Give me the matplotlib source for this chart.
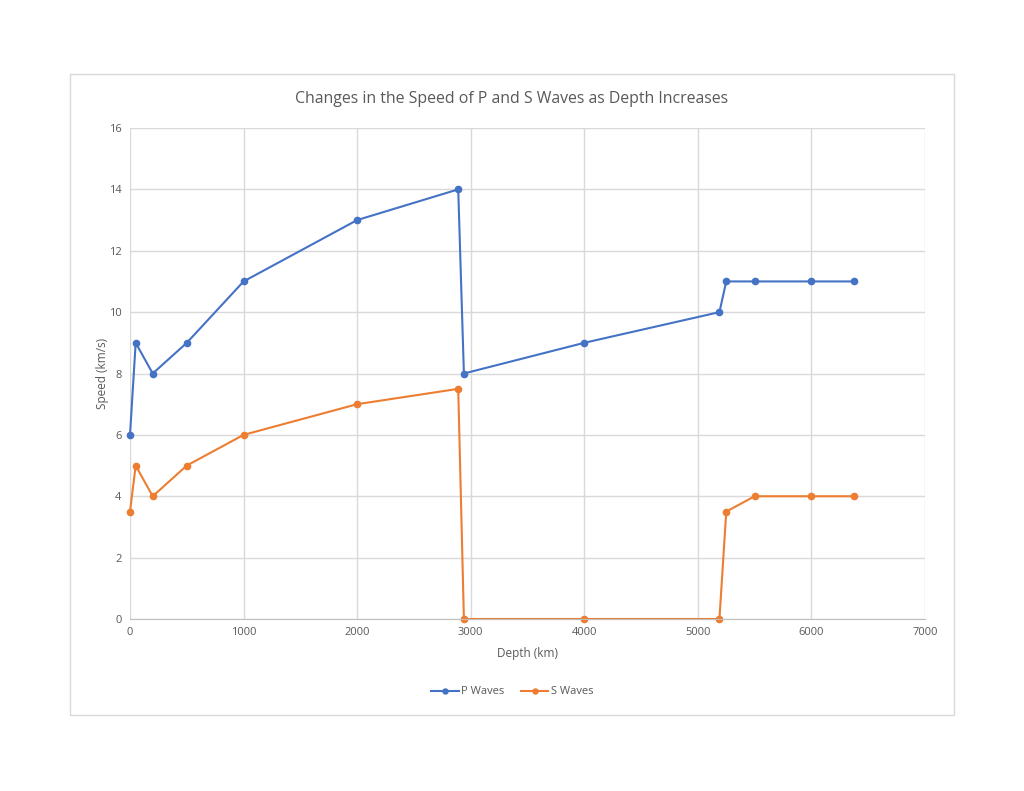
import matplotlib
matplotlib.use("Agg")
import matplotlib.pyplot as plt
from matplotlib.patches import Rectangle

plt.rcParams['font.family'] = ['Open Sans', 'DejaVu Sans']

depth = [0, 50, 200, 500, 1000, 2000, 2890, 2940, 4000, 5190, 5250, 5500, 6000, 6371]
p_waves = [6, 9, 8, 9, 11, 13, 14, 8, 9, 10, 11, 11, 11, 11]
s_waves = [3.5, 5, 4, 5, 6, 7, 7.5, 0, 0, 0, 3.5, 4, 4, 4]

BLUE = '#4472C4'
ORANGE = '#ED7D31'
GRID = '#D9D9D9'
TEXT = '#595959'

fig = plt.figure(figsize=(10.24, 7.91), dpi=100)
fig.patches.append(Rectangle((70 / 1024, 1 - 715 / 791), 884 / 1024, 641 / 791,
                             transform=fig.transFigure, fill=False,
                             edgecolor='#D9D9D9', linewidth=1))

ax = fig.add_axes([130 / 1024, 1 - 619 / 791, 795 / 1024, 491 / 791])
ax.plot(depth, p_waves, color=BLUE, linewidth=1.5, marker='o', markersize=4.5, label='P Waves')
ax.plot(depth, s_waves, color=ORANGE, linewidth=1.5, marker='o', markersize=4.5, label='S Waves')

ax.set_xlim(0, 7000)
ax.set_ylim(0, 16)
ax.set_xticks(range(0, 7001, 1000))
ax.set_yticks(range(0, 17, 2))
ax.grid(True, color=GRID, linewidth=1)
ax.set_axisbelow(True)
for side in ['top', 'right', 'left']:
    ax.spines[side].set_visible(False)
ax.spines['bottom'].set_color('#BFBFBF')
ax.tick_params(length=0, labelsize=8, colors=TEXT, pad=6)
for line in ax.lines:
    line.set_clip_on(False)

ax.set_xlabel('Depth (km)', fontsize=8.5, color=TEXT, labelpad=6)
ax.set_ylabel('Speed (km/s)', fontsize=8.5, color=TEXT, labelpad=0)
fig.text(0.5, 1 - 99 / 791, 'Changes in the Speed of P and S Waves as Depth Increases',
         ha='center', va='center', fontsize=11.4, color=TEXT)

fig.legend(loc='center', bbox_to_anchor=(0.5, 1 - 692 / 791), ncol=2, frameon=False,
           fontsize=8, labelcolor=TEXT, handlelength=2.5, handletextpad=0.2,
           columnspacing=1.5, markerscale=0.8)

fig.savefig('out.png', dpi=100)
